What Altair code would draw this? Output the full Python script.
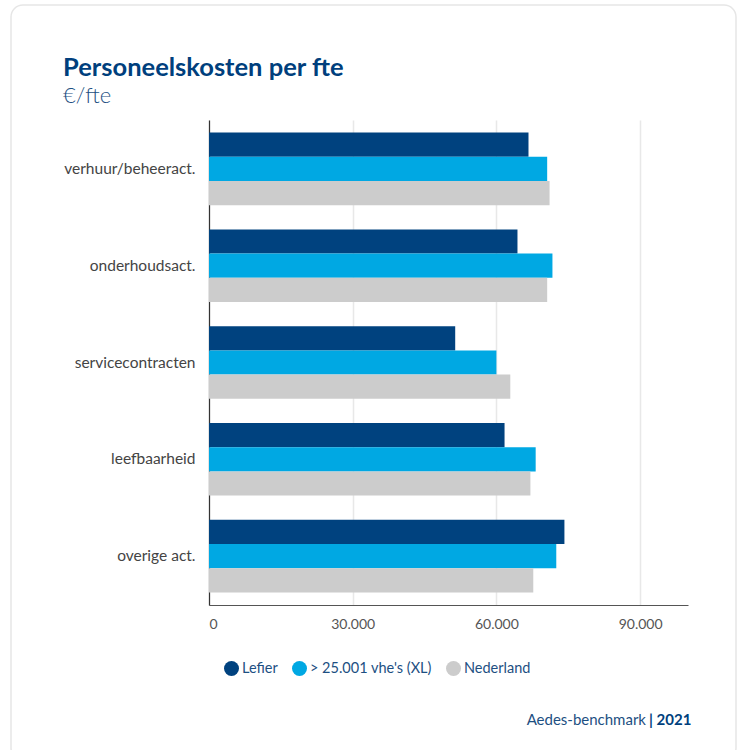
import altair as alt
import pandas as pd

categories = ["verhuur/beheeract.", "onderhoudsact.", "servicecontracten", "leefbaarheid", "overige act."]
series_names = ["Lefier", "> 25.001 vhe's (XL)", "Nederland"]
lefier = [66700, 64400, 51400, 61700, 74200]
xl = [70600, 71700, 60000, 68200, 72500]
nederland = [71100, 70600, 62900, 67100, 67700]
colors = ["#00427f", "#00a8e3", "#cccccc"]
x_ticks = [0, 30000, 60000, 90000]

rows = []
for i, c in enumerate(categories):
    for s, vals in zip(series_names, [lefier, xl, nederland]):
        rows.append({"categorie": c, "reeks": s, "waarde": vals[i]})
df = pd.DataFrame(rows)

FONT = "Lato"
W, H = 479, 485

card = alt.Chart(alt.Data(values=[{}])).mark_rect(
    fill=None, stroke="#e6e6e6", strokeWidth=1.5, cornerRadius=12
).encode(
    x=alt.value(-198), x2=alt.value(527), y=alt.value(-115), y2=alt.value(640)
)

bars = alt.Chart(df).mark_bar().encode(
    y=alt.Y("categorie:N", sort=categories, title=None,
            scale=alt.Scale(paddingInner=0.25, paddingOuter=0.13),
            axis=alt.Axis(labelFont=FONT, labelFontSize=15.5, labelColor="#444444",
                          labelPadding=14, ticks=False, domainColor="#333333",
                          domainWidth=1.2, grid=False)),
    yOffset=alt.YOffset("reeks:N", sort=series_names),
    x=alt.X("waarde:Q", title=None,
            scale=alt.Scale(domain=[0, 100000], nice=False),
            axis=alt.Axis(values=x_ticks, labelExpr="replace(format(datum.value, ','), ',', '.')",
                          labelFont=FONT, labelFontSize=14, labelColor="#555555",
                          labelPadding=12, ticks=False, domainColor="#555555",
                          gridColor="#e8e8e8", gridWidth=1.5)),
    color=alt.Color("reeks:N", sort=series_names,
                    scale=alt.Scale(domain=series_names, range=colors),
                    legend=alt.Legend(title=None, orient="none", direction="horizontal",
                                      legendX=15, legendY=541, symbolType="circle",
                                      symbolSize=225, symbolStrokeWidth=0,
                                      labelFont=FONT, labelFontSize=14.5, labelColor="#1d4f82",
                                      labelOffset=3, columnPadding=14)),
)

title = alt.Chart(alt.Data(values=[{}])).mark_text(
    text="Personeelskosten per fte", font=FONT, fontSize=25.5, fontWeight="bold",
    color="#003f7d", align="left", baseline="alphabetic"
).encode(x=alt.value(-146), y=alt.value(-44))

subtitle = alt.Chart(alt.Data(values=[{}])).mark_text(
    text="€/fte", font=FONT, fontSize=22, fontWeight=300,
    color="#1d4f82", align="left", baseline="alphabetic"
).encode(x=alt.value(-146), y=alt.value(-17))

footer1 = alt.Chart(alt.Data(values=[{}])).mark_text(
    text="Aedes-benchmark", font=FONT, fontSize=15,
    color="#1d4f82", align="right", baseline="alphabetic"
).encode(x=alt.value(437), y=alt.value(605))

footer2 = alt.Chart(alt.Data(values=[{}])).mark_text(
    text="| 2021", font=FONT, fontSize=15, fontWeight="bold",
    color="#003f7d", align="left", baseline="alphabetic"
).encode(x=alt.value(440), y=alt.value(605))

chart = alt.layer(card, bars, title, subtitle, footer1, footer2).properties(
    width=W, height=H,
    autosize=alt.AutoSizeParams(type="none"),
    padding={"left": 209, "top": 120, "right": 56, "bottom": 145},
    background="white",
).configure_view(stroke=None)

chart.save("out.html", embed_options={"renderer": "svg", "actions": False})
